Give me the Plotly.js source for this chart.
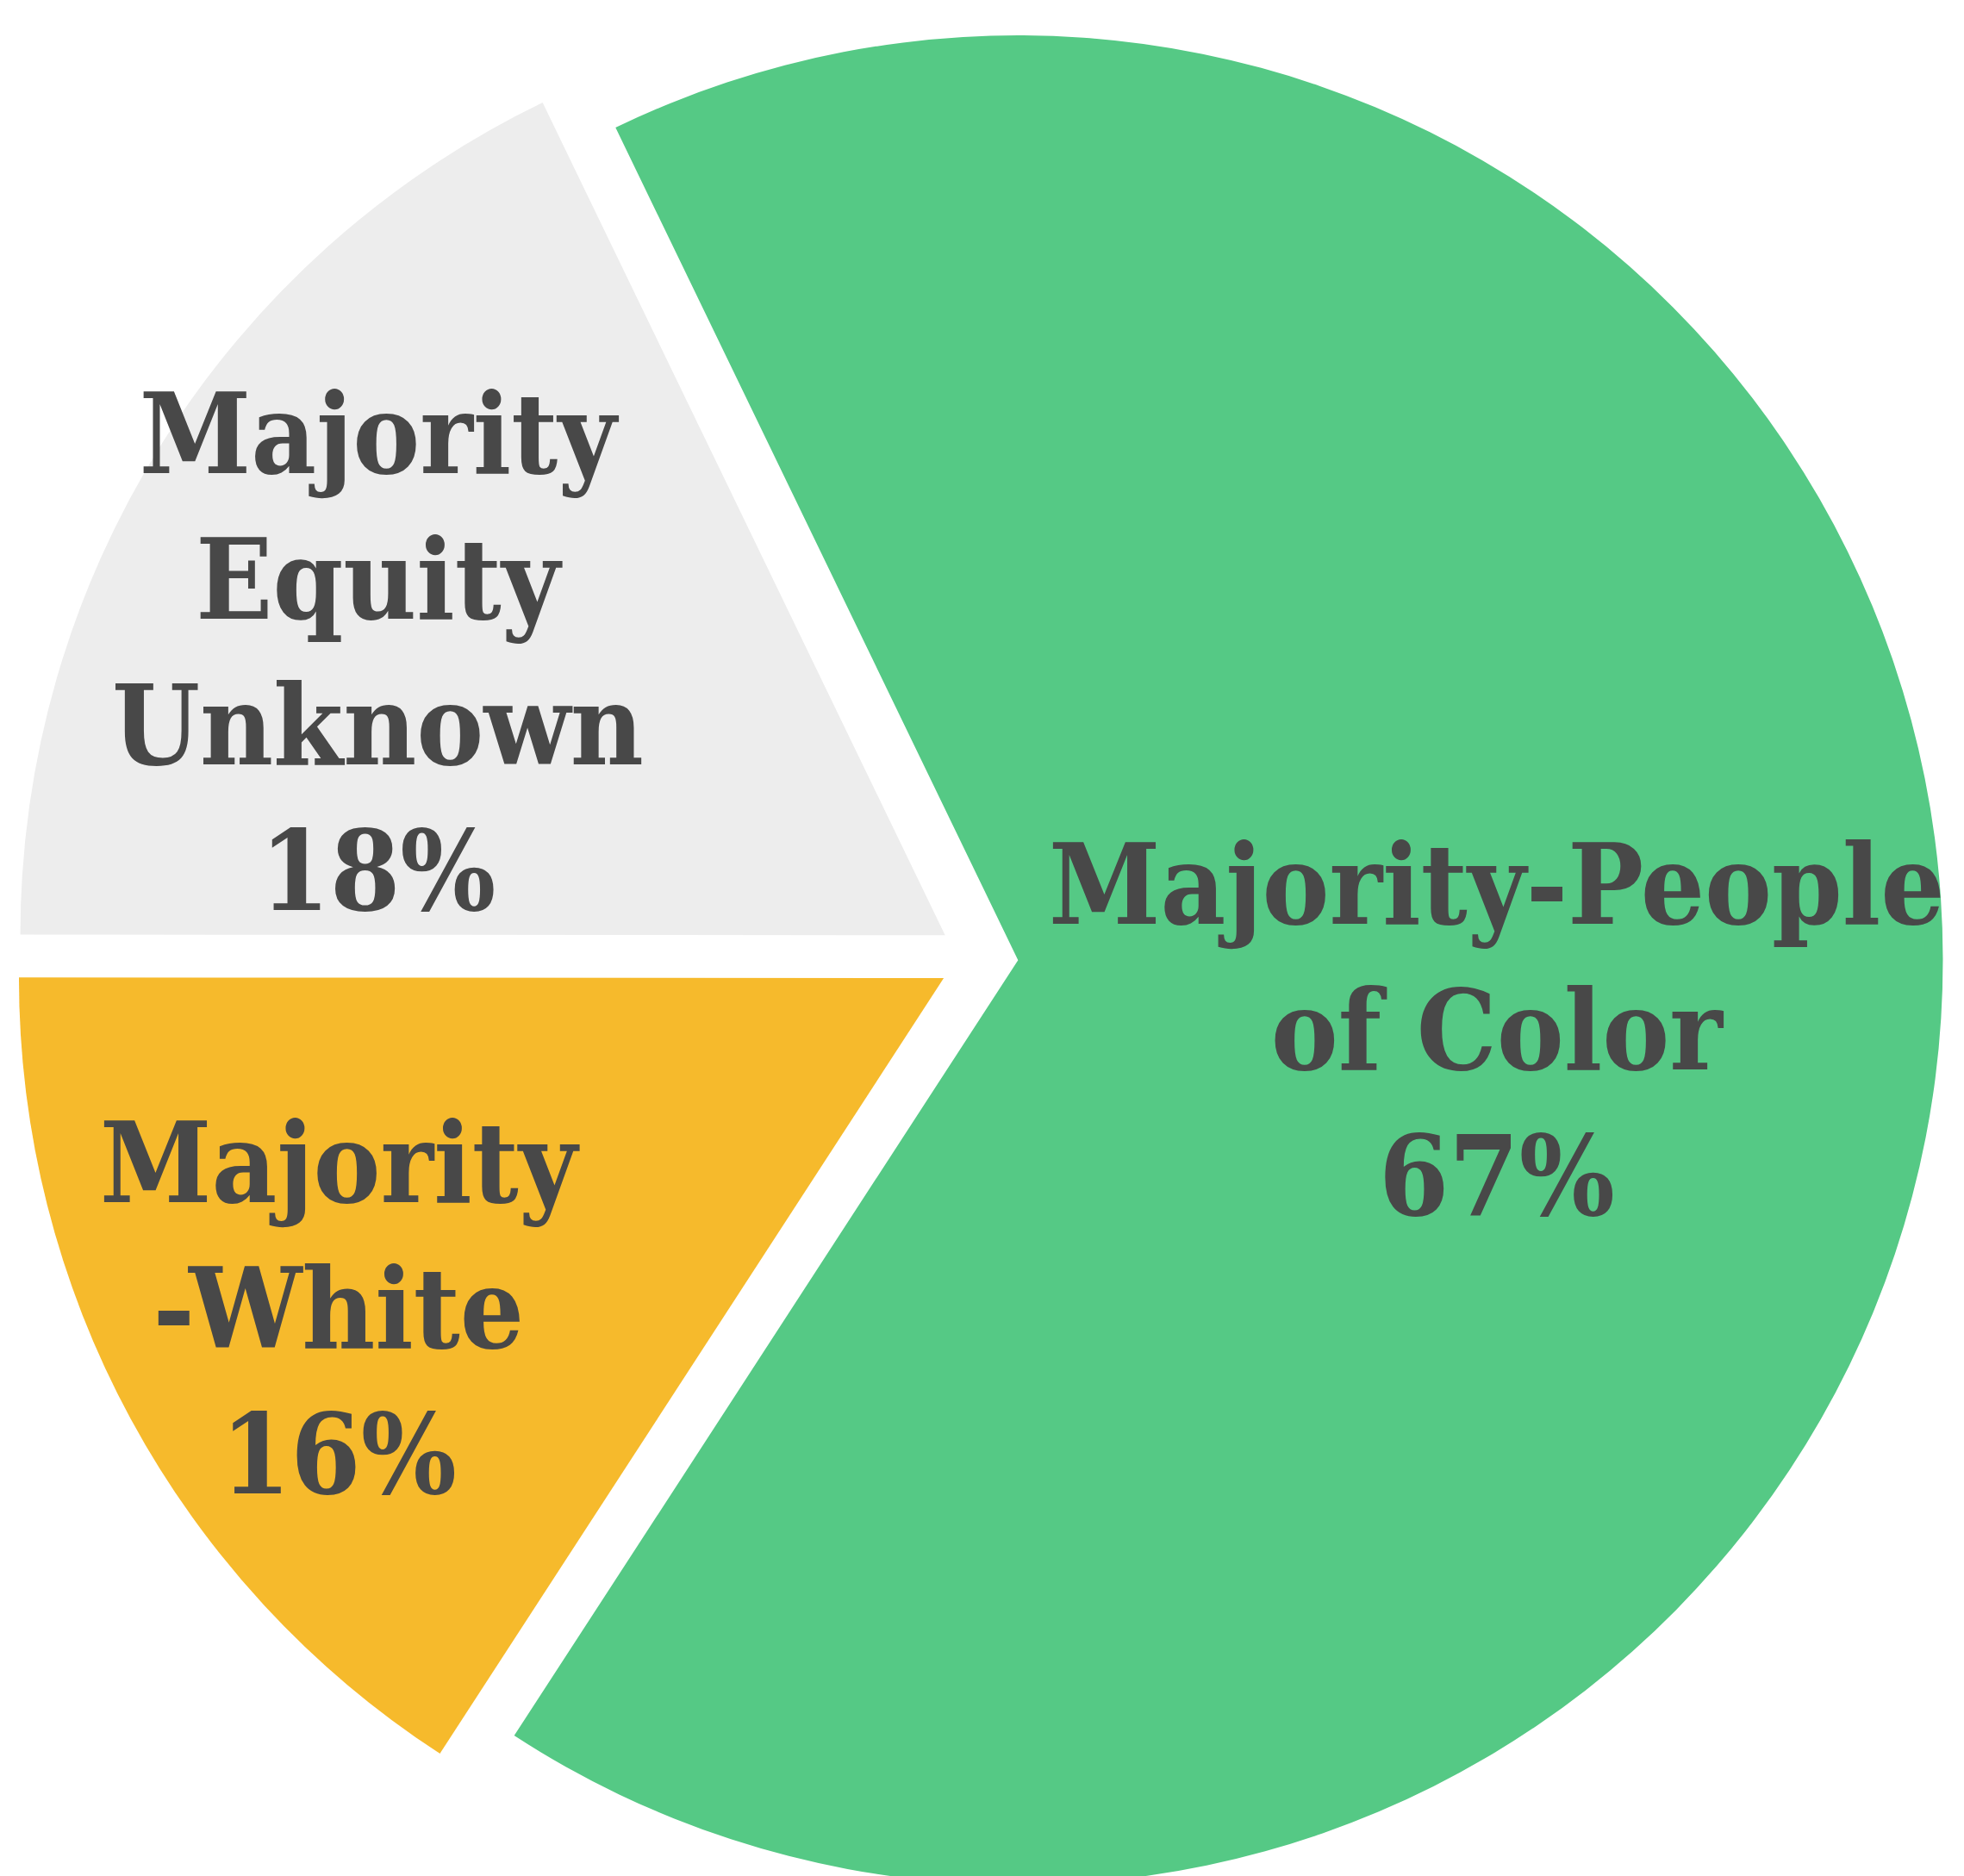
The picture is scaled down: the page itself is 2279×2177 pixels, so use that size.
<!DOCTYPE html>
<html>
<head>
<meta charset="utf-8">
<script src="https://cdn.plot.ly/plotly-3.0.1.min.js"></script>
<style>
  html, body { margin: 0; padding: 0; background: #ffffff; overflow: hidden; width: 2279px; height: 2177px; }
  #chart { position: absolute; left: 0; top: -40px; width: 2279px; height: 2400px; }
</style>
</head>
<body>
<div id="chart"></div>
<script>
// ---- data ----
const categories = ["Majority-People of Color", "Majority-White", "Majority Equity Unknown"];
const labelLines = ["Majority-People<br>of Color", "Majority<br>-White", "Majority<br>Equity<br>Unknown"];
const values = [67, 16, 18];
const colors = ["#55C985", "#F6BA2C", "#EDEDED"];

// ---- label anchor positions (paper coords) ----
const labelPos = [
  {x: 0.7666, y: 0.4624},
  {x: 0.1684, y: 0.3185},
  {x: 0.1884, y: 0.6579}
];

const fontFamily = "'DejaVu Serif Condensed', 'DejaVu Serif', serif";
const textColor = "#484848";

const trace = {
  type: "pie",
  labels: categories,
  values: values,
  sort: false,
  direction: "clockwise",
  rotation: -25.8,
  pull: [0.040, 0.046, 0.046],
  marker: { colors: colors, line: { width: 0 } },
  textinfo: "none",
  hoverinfo: "skip",
  showlegend: false
};

const annotations = categories.map((c, i) => ({
  xref: "paper", yref: "paper",
  x: labelPos[i].x, y: labelPos[i].y,
  xanchor: "center", yanchor: "middle",
  text: labelLines[i] + "<br>" + values[i] + "%",
  showarrow: false,
  align: "center",
  font: { family: fontFamily, size: 130, color: textColor, weight: "bold" }
}));

const layout = {
  width: 2279,
  height: 2400,
  margin: { l: 16, r: 18, t: 29, b: 126, pad: 0 },
  paper_bgcolor: "#ffffff",
  plot_bgcolor: "#ffffff",
  showlegend: false,
  annotations: annotations
};

Plotly.newPlot("chart", [trace], layout, { staticPlot: true, displayModeBar: false });
</script>
</body>
</html>
